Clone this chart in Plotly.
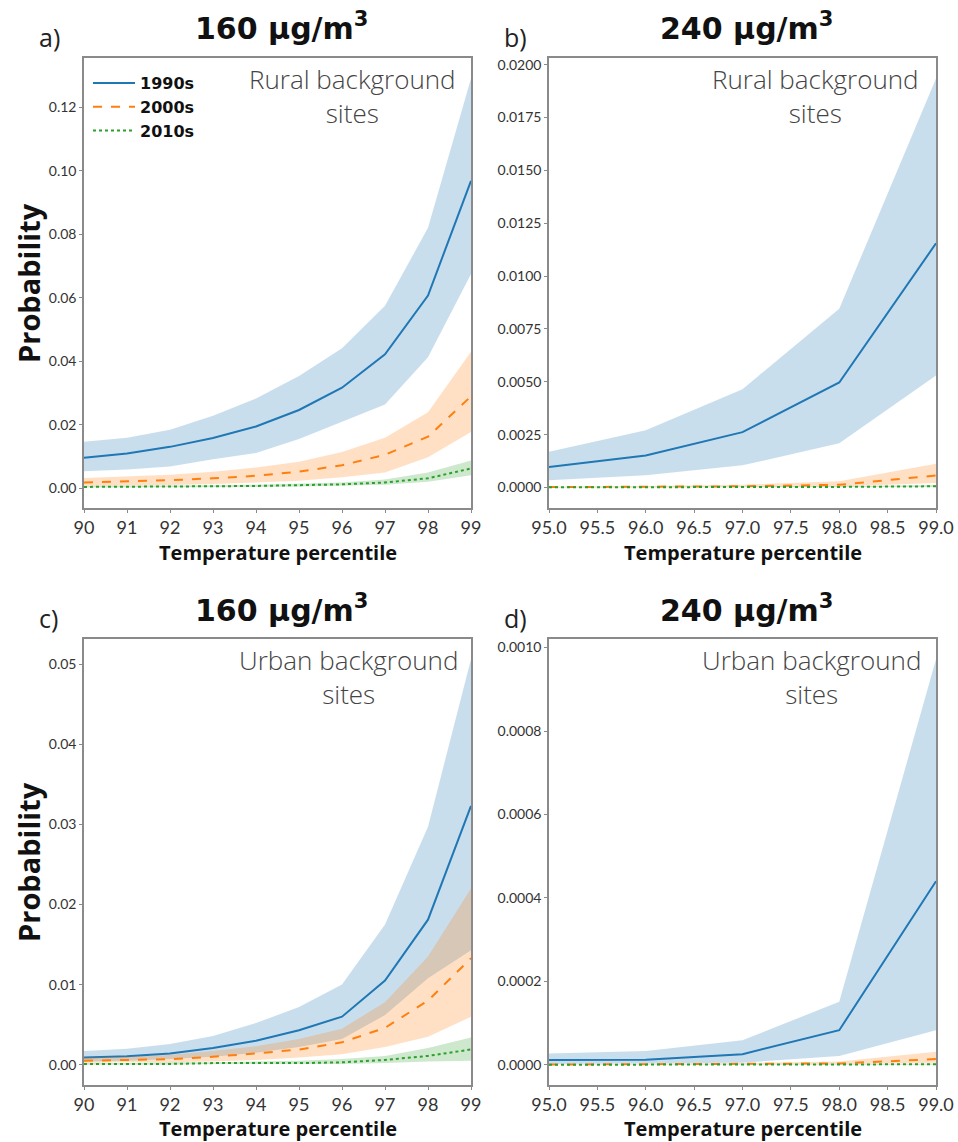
import plotly.graph_objects as go

W, H = 958, 1142

# ---- data -------------------------------------------------------------
x_160 = [90, 91, 92, 93, 94, 95, 96, 97, 98, 99]
x_240 = [95, 96, 97, 98, 99]
decades = ["1990s", "2000s", "2010s"]

# a) rural, 160 ug/m3
rural160_mid_1990 = [0.0097, 0.0110, 0.0131, 0.0159, 0.0195, 0.0247, 0.0317, 0.0422, 0.0607, 0.0968]
rural160_up_1990 = [0.0147, 0.0160, 0.0185, 0.0229, 0.0283, 0.0354, 0.0441, 0.0575, 0.0820, 0.1290]
rural160_lo_1990 = [0.0054, 0.0060, 0.0069, 0.0092, 0.0112, 0.0156, 0.0210, 0.0264, 0.0413, 0.0675]
rural160_mid_2000 = [0.0019, 0.0022, 0.0026, 0.0032, 0.0040, 0.0053, 0.0073, 0.0106, 0.0163, 0.0290]
rural160_up_2000 = [0.0033, 0.0037, 0.0043, 0.0053, 0.0066, 0.0084, 0.0115, 0.0160, 0.0240, 0.0430]
rural160_lo_2000 = [0.0008, 0.0009, 0.0011, 0.0014, 0.0018, 0.0024, 0.0035, 0.0050, 0.0098, 0.0178]
rural160_mid_2010 = [0.0005, 0.0005, 0.0006, 0.0007, 0.0008, 0.0010, 0.0013, 0.0019, 0.0032, 0.0063]
rural160_up_2010 = [0.0008, 0.0008, 0.0009, 0.0010, 0.0012, 0.0015, 0.0019, 0.0028, 0.0050, 0.0088]
rural160_lo_2010 = [0.0003, 0.0003, 0.0004, 0.0004, 0.0005, 0.0006, 0.0008, 0.0012, 0.0021, 0.0042]

# b) rural, 240 ug/m3
rural240_mid_1990 = [0.00097, 0.00152, 0.00262, 0.00497, 0.01155]
rural240_up_1990 = [0.00169, 0.00271, 0.00465, 0.00846, 0.01935]
rural240_lo_1990 = [0.00034, 0.00058, 0.00105, 0.00210, 0.00530]
rural240_mid_2000 = [0.00002, 0.00003, 0.00006, 0.00013, 0.00057]
rural240_up_2000 = [0.00005, 0.00007, 0.00013, 0.00030, 0.00112]
rural240_lo_2000 = [0.00001, 0.00001, 0.00002, 0.00005, 0.00022]
rural240_mid_2010 = [0.00001, 0.00001, 0.00002, 0.00003, 0.00006]
rural240_up_2010 = [0.00002, 0.00002, 0.00004, 0.00006, 0.00012]
rural240_lo_2010 = [0.0, 0.0, 0.00001, 0.00001, 0.00002]

# c) urban, 160 ug/m3
urban160_mid_1990 = [0.0009, 0.00105, 0.0014, 0.0021, 0.0030, 0.0043, 0.0060, 0.0105, 0.0181, 0.0323]
urban160_up_1990 = [0.0017, 0.0020, 0.0026, 0.0036, 0.0052, 0.0072, 0.0100, 0.0175, 0.0297, 0.0506]
urban160_lo_1990 = [0.0004, 0.0005, 0.0007, 0.0010, 0.0015, 0.0022, 0.0032, 0.0062, 0.0108, 0.0143]
urban160_mid_2000 = [0.0005, 0.0006, 0.0007, 0.0010, 0.0014, 0.0019, 0.0028, 0.0046, 0.0080, 0.0133]
urban160_up_2000 = [0.0009, 0.0010, 0.0012, 0.0017, 0.0023, 0.0032, 0.0045, 0.0078, 0.0135, 0.0220]
urban160_lo_2000 = [0.0002, 0.0003, 0.0003, 0.0004, 0.0006, 0.0009, 0.0013, 0.0022, 0.0035, 0.0060]
urban160_mid_2010 = [0.0001, 0.0001, 0.0001, 0.0002, 0.0002, 0.0002, 0.0003, 0.0006, 0.0011, 0.0019]
urban160_up_2010 = [0.0002, 0.0002, 0.0003, 0.0003, 0.0004, 0.0005, 0.0007, 0.0011, 0.0021, 0.0034]
urban160_lo_2010 = [0.0000, 0.0000, 0.0000, 0.0001, 0.0001, 0.0001, 0.0001, 0.0002, 0.0004, 0.0005]

# d) urban, 240 ug/m3
urban240_mid_1990 = [0.0000111, 0.0000120, 0.0000253, 0.0000828, 0.000440]
urban240_up_1990 = [0.000027, 0.000033, 0.0000585, 0.000151, 0.000972]
urban240_lo_1990 = [0.000002, 0.000003, 0.000005, 0.000021, 0.0000828]
urban240_mid_2000 = [0.0000005, 0.0000008, 0.0000015, 0.000003, 0.0000135]
urban240_up_2000 = [0.000001, 0.000002, 0.000004, 0.000008, 0.000031]
urban240_lo_2000 = [0.0, 0.0, 0.0000005, 0.000001, 0.000005]
urban240_mid_2010 = [0.0, 0.0, 0.0, 0.0000002, 0.000001]
urban240_up_2010 = [0.0000002, 0.0000003, 0.0000005, 0.000001, 0.000003]
urban240_lo_2010 = [0.0, 0.0, 0.0, 0.0, 0.0]

y_ticks_a = [0.00, 0.02, 0.04, 0.06, 0.08, 0.10, 0.12]
y_ticks_b = [0.0, 0.0025, 0.005, 0.0075, 0.01, 0.0125, 0.015, 0.0175, 0.02]
y_ticks_c = [0.00, 0.01, 0.02, 0.03, 0.04, 0.05]
y_ticks_d = [0.0, 0.0002, 0.0004, 0.0006, 0.0008, 0.0010]
x_ticks_160 = [90, 91, 92, 93, 94, 95, 96, 97, 98, 99]
x_ticks_240 = [95.0, 95.5, 96.0, 96.5, 97.0, 97.5, 98.0, 98.5, 99.0]

# ---- styling ----------------------------------------------------------
LINE_COLORS = ["#1f77b4", "#ff7f0e", "#2ca02c"]
FILL_COLORS = ["rgba(31,119,180,0.24)", "rgba(255,127,14,0.24)", "rgba(44,160,44,0.24)"]
DASHES = ["solid", "dash", "dot"]
TICK_FONT = "Lato, 'Open Sans', sans-serif"
TEXT_FONT = "'Open Sans', Lato, sans-serif"
HEAD_FONT = "'DejaVu Sans', 'Open Sans', sans-serif"
AXIS_GRAY = "#8a8a8a"


def px_x(p):
    return p / W


def px_y(p):
    return 1 - p / H


panels = [
    dict(key="a", x=x_160, ticks_x=x_ticks_160, xfmt="d", ticks_y=y_ticks_a, yfmt=".2f",
         mid=[rural160_mid_1990, rural160_mid_2000, rural160_mid_2010],
         up=[rural160_up_1990, rural160_up_2000, rural160_up_2010],
         lo=[rural160_lo_1990, rural160_lo_2000, rural160_lo_2010],
         box=(84, 471, 58, 508), title="160 µg/m<sup>3</sup>",
         note="Rural background<br>sites", note_x=352, xtitle_gap=44),
    dict(key="b", x=x_240, ticks_x=x_ticks_240, xfmt=".1f", ticks_y=y_ticks_b, yfmt=".4f",
         mid=[rural240_mid_1990, rural240_mid_2000, rural240_mid_2010],
         up=[rural240_up_1990, rural240_up_2000, rural240_up_2010],
         lo=[rural240_lo_1990, rural240_lo_2000, rural240_lo_2010],
         box=(549, 936, 58, 508), title="240 µg/m<sup>3</sup>",
         note="Rural background<br>sites", note_x=815, xtitle_gap=44),
    dict(key="c", x=x_160, ticks_x=x_ticks_160, xfmt="d", ticks_y=y_ticks_c, yfmt=".2f",
         mid=[urban160_mid_1990, urban160_mid_2000, urban160_mid_2010],
         up=[urban160_up_1990, urban160_up_2000, urban160_up_2010],
         lo=[urban160_lo_1990, urban160_lo_2000, urban160_lo_2010],
         box=(84, 471, 639, 1085), title="160 µg/m<sup>3</sup>",
         note="Urban background<br>sites", note_x=348, xtitle_gap=43),
    dict(key="d", x=x_240, ticks_x=x_ticks_240, xfmt=".1f", ticks_y=y_ticks_d, yfmt=".4f",
         mid=[urban240_mid_1990, urban240_mid_2000, urban240_mid_2010],
         up=[urban240_up_1990, urban240_up_2000, urban240_up_2010],
         lo=[urban240_lo_1990, urban240_lo_2000, urban240_lo_2010],
         box=(549, 936, 639, 1085), title="240 µg/m<sup>3</sup>",
         note="Urban background<br>sites", note_x=811, xtitle_gap=43),
]

fig = go.Figure()
annotations = []
layout_axes = {}

for i, p in enumerate(panels):
    n = "" if i == 0 else str(i + 1)
    xa, ya = "x" + n, "y" + n
    left, right, top, bottom = p["box"]

    # confidence bands, each followed by its central line
    for k in range(3):
        fig.add_trace(go.Scatter(x=p["x"], y=p["lo"][k], mode="lines", line=dict(width=0),
                                 showlegend=False, hoverinfo="skip", xaxis=xa, yaxis=ya))
        fig.add_trace(go.Scatter(x=p["x"], y=p["up"][k], mode="lines", line=dict(width=0),
                                 fill="tonexty", fillcolor=FILL_COLORS[k],
                                 showlegend=False, hoverinfo="skip", xaxis=xa, yaxis=ya))
        fig.add_trace(go.Scatter(x=p["x"], y=p["mid"][k], mode="lines", name=decades[k],
                                 line=dict(color=LINE_COLORS[k], width=2, dash=DASHES[k]),
                                 showlegend=(i == 0), xaxis=xa, yaxis=ya))

    # matplotlib-style 5% padding around the plotted data
    lo_all = min(min(v) for v in p["lo"])
    hi_all = max(max(v) for v in p["up"])
    pad = 0.05 * (hi_all - lo_all)

    axis_common = dict(showline=True, mirror=True, linecolor=AXIS_GRAY, linewidth=1.5,
                       showgrid=False, zeroline=False, ticks="outside", ticklen=3,
                       tickcolor=AXIS_GRAY, tickwidth=1, automargin=False)
    layout_axes["xaxis" + n] = dict(
        axis_common, domain=[px_x(left), px_x(right)], anchor=ya,
        range=[p["x"][0], p["x"][-1]], tickvals=p["ticks_x"], tickformat=p["xfmt"],
        tickfont=dict(size=18, color="#333333", family=TICK_FONT))
    layout_axes["yaxis" + n] = dict(
        axis_common, domain=[px_y(bottom), px_y(top)], anchor=xa,
        range=[lo_all - pad, hi_all + pad], tickvals=p["ticks_y"], tickformat=p["yfmt"],
        tickfont=dict(size=14, color="#333333", family=TICK_FONT))

    cx = (left + right) / 2
    # panel title
    annotations.append(dict(text="<b>" + p["title"] + "</b>", x=px_x(cx + 4), y=px_y(top - 31),
                            xref="paper", yref="paper", xanchor="center", yanchor="middle",
                            showarrow=False, font=dict(size=30, color="#111111", family=HEAD_FONT)))
    # panel letter
    annotations.append(dict(text=p["key"] + ")", x=px_x(left - 47), y=px_y(top - 21),
                            xref="paper", yref="paper", xanchor="left", yanchor="middle",
                            showarrow=False, font=dict(size=25, color="#222222", family=TEXT_FONT)))
    # site type note
    annotations.append(dict(text=p["note"], x=px_x(p["note_x"]), y=px_y(top + 1),
                            xref="paper", yref="paper", xanchor="center", yanchor="top",
                            showarrow=False, align="center",
                            font=dict(size=26, color="#444444", family=TEXT_FONT, weight=300)))
    # x-axis title
    annotations.append(dict(text="<b>Temperature percentile</b>", x=px_x(cx),
                            y=px_y(bottom + p["xtitle_gap"]),
                            xref="paper", yref="paper", xanchor="center", yanchor="middle",
                            showarrow=False, font=dict(size=20, color="#111111", family=TEXT_FONT)))
    # y-axis title on the left column
    if p["key"] in ("a", "c"):
        annotations.append(dict(text="<b>Probability</b>", x=px_x(28), y=px_y((top + bottom) / 2),
                                xref="paper", yref="paper", xanchor="center", yanchor="middle",
                                textangle=-90, showarrow=False,
                                font=dict(size=29, color="#111111", family=TEXT_FONT)))

fig.update_layout(
    width=W, height=H,
    margin=dict(l=0, r=0, t=0, b=0, autoexpand=False),
    paper_bgcolor="white", plot_bgcolor="white",
    font=dict(family=TICK_FONT, color="#222222"),
    annotations=annotations,
    legend=dict(x=px_x(88), y=px_y(66), xanchor="left", yanchor="top",
                traceorder="normal", bgcolor="rgba(255,255,255,0)", itemwidth=42,
                font=dict(size=16, color="#111111", family=HEAD_FONT, weight="bold")),
    **layout_axes,
)

fig.write_html("out.html")
